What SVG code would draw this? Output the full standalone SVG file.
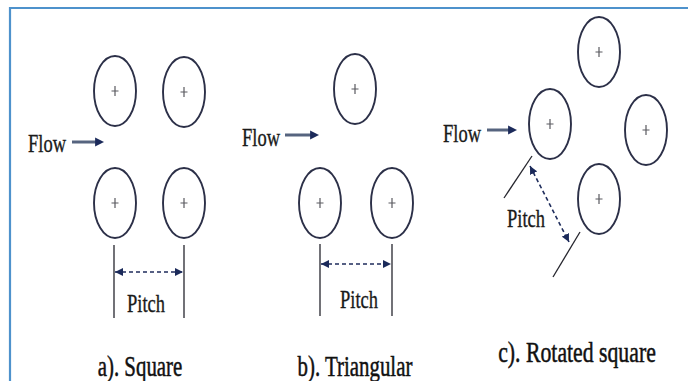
<svg xmlns="http://www.w3.org/2000/svg" width="688" height="381" viewBox="0 0 688 381">
  <style>
    .tube { fill: none; stroke: #2c3048; stroke-width: 1.9; }
    .cross { fill: none; stroke: #5a5a60; stroke-width: 1.2; }
    .flow { fill: none; stroke: #56647f; stroke-width: 3; }
    .pitch { fill: none; stroke: #1f2d5c; stroke-width: 1.6; stroke-dasharray: 4 3; }
    .ext { fill: none; stroke: #26262e; stroke-width: 1.3; }
    text { font-family: 'Liberation Serif', 'DejaVu Serif', serif; text-anchor: middle; }
    .lbl { font-size: 25px; fill: #1a1a1a; stroke: #1a1a1a; stroke-width: 0.35; }
    .cap { font-size: 29px; fill: #111111; stroke: #111111; stroke-width: 0.5; }
  </style>
  <defs>
    <marker id="flowHead" viewBox="0 0 10 10" refX="1" refY="5" markerUnits="userSpaceOnUse" markerWidth="9" markerHeight="11" orient="auto">
      <path d="M0,0 L10,5 L0,10 z" fill="#1b2a5a"/>
    </marker>
    <marker id="pitchHead" viewBox="0 0 10 10" refX="10" refY="5" markerUnits="userSpaceOnUse" markerWidth="8" markerHeight="9" orient="auto-start-reverse">
      <path d="M0,0 L10,5 L0,10 z" fill="#1b2a5a"/>
    </marker>
    <path id="plus" class="cross" d="M-3.5,0 H3.5 M0,-5 V5"/>
  </defs>

  <rect width="688" height="381" fill="#ffffff"/>
  <!-- frame -->
  <path d="M10,381 V8 H688" fill="none" stroke="#4e92cc" stroke-width="2.2"/>

  <!-- a) square layout -->
  <g id="sq-tl"><ellipse class="tube" cx="115" cy="91" rx="21" ry="35"/><use href="#plus" x="115" y="91"/></g>
  <g id="sq-tr"><ellipse class="tube" cx="184" cy="92" rx="21" ry="35"/><use href="#plus" x="184" y="92"/></g>
  <g id="sq-bl"><ellipse class="tube" cx="115" cy="203" rx="21" ry="35"/><use href="#plus" x="115" y="203"/></g>
  <g id="sq-br"><ellipse class="tube" cx="184" cy="203" rx="21" ry="35"/><use href="#plus" x="184" y="203"/></g>

  <!-- b) triangular layout -->
  <g id="tri-top"><ellipse class="tube" cx="355" cy="89" rx="21" ry="35"/><use href="#plus" x="355" y="89"/></g>
  <g id="tri-bl"><ellipse class="tube" cx="320" cy="203" rx="21" ry="35"/><use href="#plus" x="320" y="203"/></g>
  <g id="tri-br"><ellipse class="tube" cx="392" cy="203" rx="21" ry="35"/><use href="#plus" x="392" y="203"/></g>

  <!-- c) rotated square layout -->
  <g id="rot-top"><ellipse class="tube" cx="599" cy="52" rx="21" ry="35"/><use href="#plus" x="599" y="52"/></g>
  <g id="rot-left"><ellipse class="tube" cx="550" cy="124" rx="21" ry="35"/><use href="#plus" x="550" y="124"/></g>
  <g id="rot-right"><ellipse class="tube" cx="646" cy="130" rx="21" ry="35"/><use href="#plus" x="646" y="130"/></g>
  <g id="rot-bottom"><ellipse class="tube" cx="599" cy="199" rx="21" ry="35"/><use href="#plus" x="599" y="199"/></g>

  <!-- connectors: flow arrows, pitch extension lines and pitch dimensions -->
  <g id="connectors">
    <line class="flow" x1="72" y1="142" x2="96" y2="142" marker-end="url(#flowHead)"/>
    <line class="flow" x1="285" y1="135" x2="311" y2="135" marker-end="url(#flowHead)"/>
    <line class="flow" x1="487" y1="130" x2="509" y2="130" marker-end="url(#flowHead)"/>

    <line class="ext" x1="114" y1="245" x2="114" y2="318"/>
    <line class="ext" x1="184" y1="245" x2="184" y2="318"/>
    <line class="pitch" x1="115" y1="272" x2="183" y2="272" marker-start="url(#pitchHead)" marker-end="url(#pitchHead)"/>

    <line class="ext" x1="320" y1="244" x2="320" y2="316"/>
    <line class="ext" x1="392" y1="244" x2="392" y2="316"/>
    <line class="pitch" x1="321" y1="264" x2="391" y2="264" marker-start="url(#pitchHead)" marker-end="url(#pitchHead)"/>

    <line class="ext" x1="532" y1="156" x2="504" y2="198"/>
    <line class="ext" x1="580" y1="232" x2="553" y2="277"/>
    <line class="pitch" x1="530" y1="166" x2="569" y2="242" marker-start="url(#pitchHead)" marker-end="url(#pitchHead)"/>
  </g>

  <!-- labels -->
  <g id="labels">
    <text class="lbl" transform="translate(47,152) scale(0.74,1)">Flow</text>
    <text class="lbl" transform="translate(261,146) scale(0.74,1)">Flow</text>
    <text class="lbl" transform="translate(462,142) scale(0.74,1)">Flow</text>
    <text class="lbl" transform="translate(146,312) scale(0.74,1)">Pitch</text>
    <text class="lbl" transform="translate(359,308) scale(0.74,1)">Pitch</text>
    <text class="lbl" transform="translate(526,227) scale(0.74,1)">Pitch</text>
    <text class="cap" transform="translate(140,376) scale(0.72,1)">a). Square</text>
    <text class="cap" transform="translate(355,376) scale(0.72,1)">b). Triangular</text>
    <text class="cap" transform="translate(577,362) scale(0.75,1)">c). Rotated square</text>
  </g>
</svg>
